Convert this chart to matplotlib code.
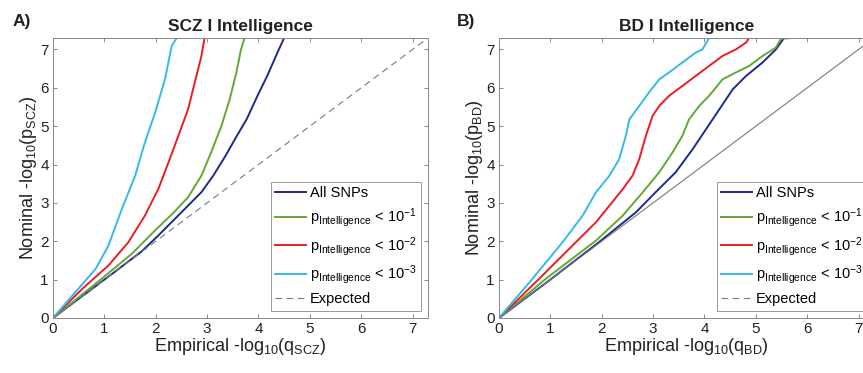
import matplotlib
matplotlib.use("Agg")
import matplotlib.pyplot as plt
from matplotlib.lines import Line2D

plt.rcParams['font.family'] = 'Liberation Sans'
plt.rcParams['mathtext.fontset'] = 'custom'
plt.rcParams['mathtext.rm'] = 'Liberation Sans'
plt.rcParams['mathtext.it'] = 'Liberation Sans:italic'
plt.rcParams['mathtext.bf'] = 'Liberation Sans:bold'

# ---- data (x = empirical, y = nominal) ----
# A) SCZ | Intelligence
scz_all_x = [0, 0.6, 1.2, 1.73, 2.05, 2.37, 2.63, 2.89, 3.12, 3.36, 3.58, 3.77, 3.98, 4.17, 4.37, 4.50]
scz_all_y = [0, 0.6, 1.2, 1.74, 2.15, 2.58, 2.93, 3.28, 3.71, 4.23, 4.75, 5.18, 5.79, 6.31, 6.92, 7.3]
scz_p1_x = [0, 0.89, 1.54, 2.0, 2.35, 2.63, 2.89, 3.08, 3.28, 3.44, 3.57, 3.66, 3.73]
scz_p1_y = [0, 0.96, 1.68, 2.3, 2.75, 3.15, 3.71, 4.32, 5.01, 5.70, 6.40, 7.0, 7.3]
scz_p2_x = [0, 0.57, 1.08, 1.47, 1.79, 2.05, 2.25, 2.44, 2.63, 2.76, 2.89, 2.95]
scz_p2_y = [0, 0.76, 1.37, 1.98, 2.67, 3.36, 4.06, 4.75, 5.44, 6.14, 6.83, 7.3]
scz_p3_x = [0, 0.44, 0.83, 1.08, 1.34, 1.60, 1.79, 1.99, 2.18, 2.31, 2.41]
scz_p3_y = [0, 0.68, 1.28, 1.89, 2.84, 3.71, 4.58, 5.36, 6.22, 7.09, 7.3]

# B) BD | Intelligence
bd_all_x = [0, 0.98, 1.95, 2.67, 3.05, 3.44, 3.77, 4.03, 4.29, 4.55, 4.81, 5.13, 5.39, 5.55]
bd_all_y = [0, 0.98, 1.98, 2.76, 3.28, 3.80, 4.40, 4.92, 5.44, 5.96, 6.31, 6.66, 7.0, 7.3]
bd_p1_x = [0, 0.91, 1.89, 2.41, 2.80, 3.12, 3.38, 3.57, 3.70, 3.90, 4.09, 4.35, 4.61, 4.87,
           5.13, 5.39, 5.49, 5.71]
bd_p1_y = [0, 1.02, 2.02, 2.67, 3.28, 3.80, 4.32, 4.75, 5.18, 5.53, 5.79, 6.22, 6.40, 6.57,
           6.83, 7.05, 7.28, 7.3]
bd_p2_x = [0, 0.78, 1.50, 1.89, 2.15, 2.41, 2.60, 2.73, 2.86, 2.99, 3.12, 3.31, 3.57, 3.83,
           4.09, 4.35, 4.61, 4.81, 4.87, 5.39]
bd_p2_y = [0, 1.02, 1.98, 2.50, 2.93, 3.36, 3.71, 4.14, 4.75, 5.27, 5.53, 5.79, 6.05, 6.31,
           6.57, 6.83, 7.0, 7.18, 7.3, 7.3]
bd_p3_x = [0, 0.65, 1.24, 1.63, 1.89, 2.15, 2.34, 2.47, 2.54, 2.73, 2.92, 3.12, 3.31, 3.57,
           3.83, 3.96, 4.09, 4.68]
bd_p3_y = [0, 1.02, 1.98, 2.67, 3.28, 3.71, 4.14, 4.75, 5.18, 5.53, 5.88, 6.22, 6.40, 6.66,
           6.92, 7.0, 7.3, 7.3]

expected_x = [0, 7.3]
expected_y = [0, 7.3]

colors = ['#1c2a8c', '#62a832', '#ec1c24', '#35b8ec']
labels = ['All SNPs',
          r'p$_{\mathrm{Intelligence}}$ < 10$^{\mathrm{-1}}$',
          r'p$_{\mathrm{Intelligence}}$ < 10$^{\mathrm{-2}}$',
          r'p$_{\mathrm{Intelligence}}$ < 10$^{\mathrm{-3}}$']

fig = plt.figure(figsize=(8.63, 3.73), dpi=100)
ax1 = fig.add_axes([0.0614, 0.1475, 0.4345, 0.7507])
ax2 = fig.add_axes([0.5782, 0.1475, 0.4345, 0.7507])

panels = [
    (ax1, [(scz_all_x, scz_all_y), (scz_p1_x, scz_p1_y), (scz_p2_x, scz_p2_y), (scz_p3_x, scz_p3_y)],
     'SCZ I Intelligence', 'SCZ', (0, (6, 4))),
    (ax2, [(bd_all_x, bd_all_y), (bd_p1_x, bd_p1_y), (bd_p2_x, bd_p2_y), (bd_p3_x, bd_p3_y)],
     'BD I Intelligence', 'BD', '-'),
]

for ax, series, title, tag, exp_style in panels:
    handles = []
    for (xs, ys), c, lab in zip(series, colors, labels):
        h, = ax.plot(xs, ys, color=c, lw=1.4, label=lab)
        handles.append(h)
    ax.plot(expected_x, expected_y, color='#7a7a7a', lw=0.8, linestyle=exp_style)
    handles.append(Line2D([], [], color='#7a7a7a', lw=0.8, linestyle=(0, (6, 4)), label='Expected'))

    ax.set_xlim(0, 7.3)
    ax.set_ylim(0, 7.3)
    ax.set_xticks(range(8))
    ax.set_yticks(range(8))
    ax.tick_params(direction='in', length=3, width=0.6, color='#777777',
                   top=True, right=True, labelsize=11, labelcolor='#222222', pad=3)
    for sp in ax.spines.values():
        sp.set_color('#888888')
        sp.set_linewidth(0.7)
    ax.set_title(title, fontsize=12.5, fontweight='bold', color='#222222', pad=5)
    ax.set_xlabel(r'Empirical -log$_{\mathrm{10}}$(q$_{\mathrm{%s}}$)' % tag, fontsize=13,
                  color='#222222', labelpad=0)
    ax.set_ylabel(r'Nominal -log$_{\mathrm{10}}$(p$_{\mathrm{%s}}$)' % tag, fontsize=13,
                  color='#222222', labelpad=1)
    leg = ax.legend(handles=handles, loc='lower right', fontsize=10.5, fancybox=False,
                    framealpha=1, edgecolor='#999999', handlelength=2.1, handletextpad=0.25,
                    labelspacing=0.4, borderaxespad=0.5, borderpad=0.3)
    leg.get_frame().set_linewidth(0.7)

fig.text(0.015, 0.942, 'A)', fontsize=12.5, fontweight='bold', va='center', color='#222222')
fig.text(0.5295, 0.942, 'B)', fontsize=12.5, fontweight='bold', va='center', color='#222222')

fig.savefig('out.png', dpi=100)
